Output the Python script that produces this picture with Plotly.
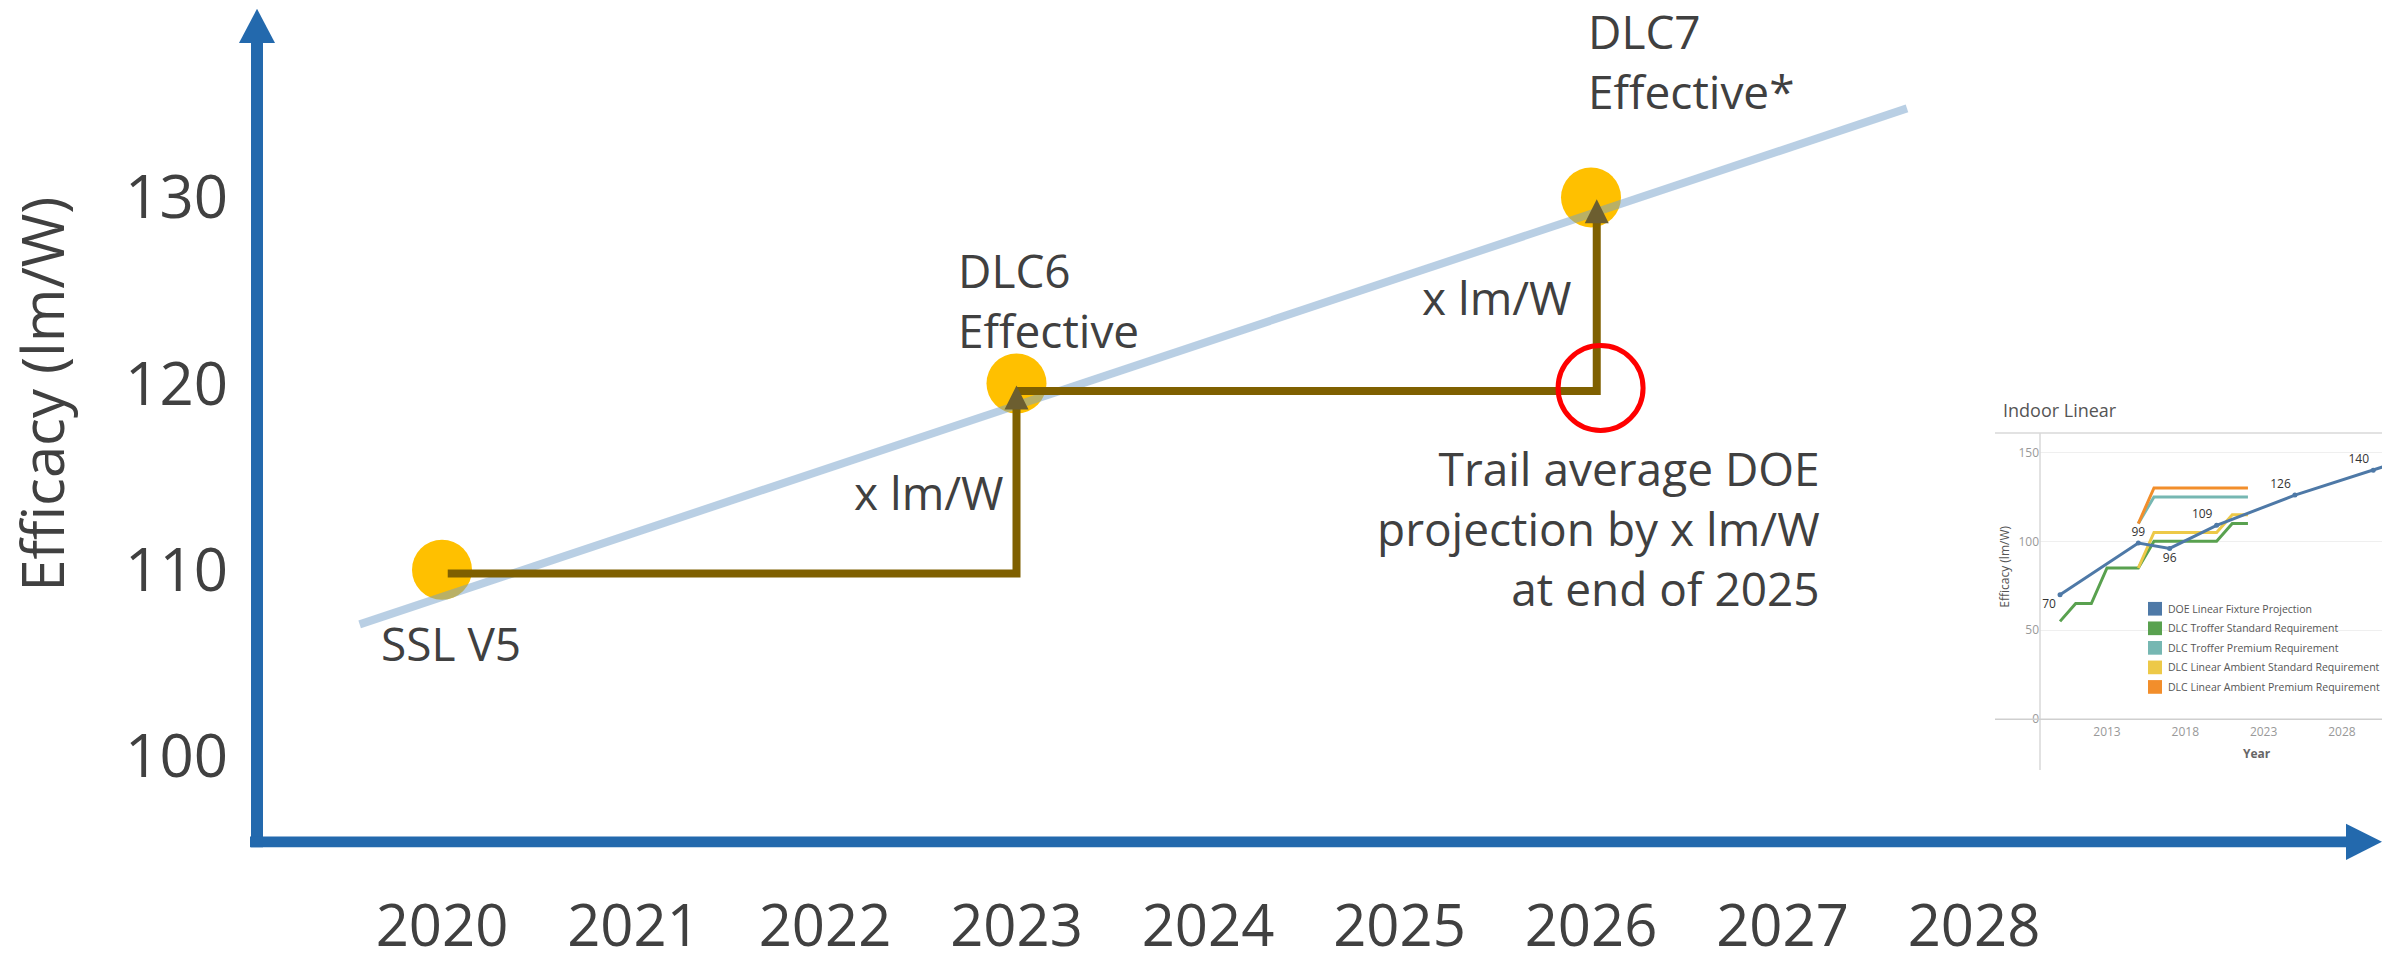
import plotly.graph_objects as go

W, H = 2382, 963

# ---------------- data: main chart ----------------
years_axis = [2020, 2021, 2022, 2023, 2024, 2025, 2026, 2027, 2028]
efficacy_ticks = [100, 110, 120, 130]

milestone_years = [2020, 2023, 2026]
milestone_values = [110, 120, 130]

trend_years = [2019.57, 2027.65]
trend_values = [107.06, 134.78]

step_start_year = 2020.03
step_riser_years = [2023.0, 2026.03]
step_levels = [109.8, 119.6]
step_tips = [119.9, 129.9]

gap_year = [2026.05]
gap_value = [119.76]

# ---------------- data: inset (Indoor Linear) ----------------
doe_years = [2010, 2015, 2017, 2020, 2025, 2030, 2031]
doe_values = [70, 99, 96, 109, 126, 140, 143]
doe_labels = ["70", "99", "96", "109", "126", "140", ""]
troffer_std_years = [2010, 2011, 2012, 2013, 2015, 2016, 2020, 2021, 2022]
troffer_std_values = [55, 65, 65, 85, 85, 100, 100, 110, 110]
troffer_prem_years = [2015, 2016, 2022]
troffer_prem_values = [110, 125, 125]
amb_std_years = [2015, 2016, 2020, 2021, 2022]
amb_std_values = [85, 105, 105, 115, 115]
amb_prem_years = [2015, 2016, 2022]
amb_prem_values = [110, 130, 130]
inset_xticks = [2013, 2018, 2023, 2028]
inset_yticks = [0, 50, 100, 150]
legend_names = ["DOE Linear Fixture Projection", "DLC Troffer Standard Requirement",
                "DLC Troffer Premium Requirement", "DLC Linear Ambient Standard Requirement",
                "DLC Linear Ambient Premium Requirement"]

# ---------------- styles ----------------
AXIS_BLUE = "#2369ad"
TEXT = "#404040"
GOLD = "#FFC000"
BROWN = "#7f6000"
ARROW_BROWN = "rgb(108,94,48)"
TREND = "rgba(115,159,201,0.5)"
C_DOE, C_TSTD, C_TPREM, C_ASTD, C_APREM = "#4e79a7", "#59a14f", "#76b7b2", "#edc948", "#f28e2b"
legend_colors = [C_DOE, C_TSTD, C_TPREM, C_ASTD, C_APREM]
FONT = "Open Sans"


def px(x):
    return x / W


def py(y):
    return 1 - y / H


# main axis calibration (pixels)
X_AT_2020, PX_PER_YEAR = 442, 191.5
Y_AT_110, PX_PER_UNIT = 583, 19.05
main_left, main_bottom = 257, 861
x_range = [2020 - (X_AT_2020 - main_left) / PX_PER_YEAR,
           2020 + (W - X_AT_2020) / PX_PER_YEAR]
y_range = [110 - (main_bottom - Y_AT_110) / PX_PER_UNIT, 110 + Y_AT_110 / PX_PER_UNIT]

# inset calibration
in_left, in_top, in_bottom = 2040, 443, 740
IN_X2013, IN_PPY = 2107, 15.66
IN_Y0, IN_PPU = 736, 1.82
x2_range = [2013 - (IN_X2013 - in_left) / IN_PPY, 2013 + (W - IN_X2013) / IN_PPY]
y2_range = [-(in_bottom - IN_Y0) / IN_PPU, (IN_Y0 - in_top) / IN_PPU]

fig = go.Figure()

# milestone circles
fig.add_trace(go.Scatter(x=milestone_years, y=milestone_values, mode="markers",
                         marker=dict(size=60, color=GOLD, line=dict(width=0)),
                         hoverinfo="skip"))
# trend line
fig.add_trace(go.Scatter(x=trend_years, y=trend_values, mode="lines",
                         line=dict(color=TREND, width=8), hoverinfo="skip"))
# step path (two horizontal runs + risers)
starts = [step_start_year, step_riser_years[0]]
for i in range(2):
    xr = step_riser_years[i]
    tip = step_tips[i]
    fig.add_trace(go.Scatter(x=[starts[i], xr, xr], y=[step_levels[i], step_levels[i], tip - 0.9],
                             mode="lines", line=dict(color=BROWN, width=8),
                             hoverinfo="skip"))
fig.add_trace(go.Scatter(x=step_riser_years, y=step_tips, mode="markers",
                         marker=dict(symbol="arrow-up", size=24, color=ARROW_BROWN,
                                     line=dict(width=0)),
                         hoverinfo="skip"))
# red highlight circle
fig.add_trace(go.Scatter(x=gap_year, y=gap_value, mode="markers",
                         marker=dict(symbol="circle-open", size=85, color="#FF0000",
                                     line=dict(width=5, color="#FF0000")),
                         hoverinfo="skip"))

# ---------------- inset traces ----------------
for xs, ys, c in [(troffer_std_years, troffer_std_values, C_TSTD),
                  (troffer_prem_years, troffer_prem_values, C_TPREM),
                  (amb_std_years, amb_std_values, C_ASTD),
                  (amb_prem_years, amb_prem_values, C_APREM)]:
    fig.add_trace(go.Scatter(x=xs, y=ys, mode="lines", line=dict(color=c, width=3),
                             xaxis="x2", yaxis="y2", hoverinfo="skip"))
fig.add_trace(go.Scatter(x=doe_years, y=doe_values, mode="lines+markers+text",
                         line=dict(color=C_DOE, width=3), marker=dict(size=5, color=C_DOE),
                         text=doe_labels,
                         textposition=["bottom left", "top center", "bottom center",
                                       "top left", "top left", "top left", "top left"],
                         textfont=dict(size=12, color="#333333", family=FONT),
                         xaxis="x2", yaxis="y2", hoverinfo="skip"))

shapes = []
# main axes with arrows
shapes.append(dict(type="rect", xref="paper", yref="paper", x0=px(251), x1=px(263),
                   y0=py(867), y1=py(44), fillcolor=AXIS_BLUE, line=dict(width=0)))
shapes.append(dict(type="rect", xref="paper", yref="paper", x0=px(250), x1=px(2347),
                   y0=py(867), y1=py(856), fillcolor=AXIS_BLUE, line=dict(width=0)))
shapes.append(dict(type="path", xref="paper", yref="paper",
                   path=f"M{px(239)},{py(44)} L{px(257)},{py(9)} L{px(275)},{py(44)} Z",
                   fillcolor=AXIS_BLUE, line=dict(width=0)))
shapes.append(dict(type="path", xref="paper", yref="paper",
                   path=f"M{px(2346)},{py(843)} L{px(2382)},{py(861.5)} L{px(2346)},{py(880)} Z",
                   fillcolor=AXIS_BLUE, line=dict(width=0)))
# inset frame lines
shapes.append(dict(type="line", xref="paper", yref="paper", x0=px(1995), x1=px(2382),
                   y0=py(443), y1=py(443), line=dict(color="#d9d9d9", width=1.5)))
shapes.append(dict(type="line", xref="paper", yref="paper", x0=px(2040), x1=px(2040),
                   y0=py(443), y1=py(788), line=dict(color="#d9d9d9", width=1.5)))
shapes.append(dict(type="line", xref="paper", yref="paper", x0=px(1995), x1=px(2382),
                   y0=py(736), y1=py(736), line=dict(color="#cfcfcf", width=1.5)))
# inset legend swatches
legend_rows = [623, 643, 663, 683, 703]
for yc, c in zip(legend_rows, legend_colors):
    shapes.append(dict(type="rect", xref="paper", yref="paper", x0=px(2148), x1=px(2162),
                       y0=py(yc + 7), y1=py(yc - 7), fillcolor=c, line=dict(width=0)))

ann = []


def text(x, y, s, size, xanchor="left", align="left", color=TEXT, angle=0):
    ann.append(dict(x=px(x), y=py(y), xref="paper", yref="paper", text=s, showarrow=False,
                    xanchor=xanchor, yanchor="middle", align=align, textangle=angle,
                    font=dict(family=FONT, size=size, color=color)))


text(42, 404, "Efficacy (lm/W)", 58, xanchor="center", align="center", angle=-90)
text(379, 658, "SSL V5", 46)
text(956, 307, "DLC6<br>Effective", 46)
text(1586, 62, "DLC7<br>Effective*", 46)
text(852, 503, "x lm/W", 46)
text(1420, 304, "x lm/W", 46)
text(1822, 540, "Trail average DOE<br>projection by x lm/W<br>at end of 2025", 46,
     xanchor="right", align="right")
# inset texts
text(2001, 420, "Indoor Linear", 18, color="#555555")
text(2005, 580, "Efficacy (lm/W)", 12, xanchor="center", align="center", color="#555555", angle=-90)
text(2257, 771, "<b>Year</b>", 12, xanchor="center", align="center", color="#666666")
for yc, name in zip(legend_rows, legend_names):
    text(2166, yc, name, 10.5, color="#555555")

fig.update_layout(
    width=W, height=H, margin=dict(l=0, r=0, t=0, b=0),
    paper_bgcolor="white", plot_bgcolor="rgba(0,0,0,0)", showlegend=False,
    font=dict(family=FONT, color=TEXT),
    xaxis=dict(domain=[px(main_left), 1], range=x_range, tickvals=years_axis,
               ticktext=[str(v) for v in years_axis], showgrid=False, zeroline=False,
               showline=False, ticks="", tickfont=dict(size=58, color=TEXT, family=FONT),
               ticklabelstandoff=46),
    yaxis=dict(domain=[py(main_bottom), 1], range=y_range, tickvals=efficacy_ticks,
               showgrid=False, zeroline=False, showline=False, ticks="",
               tickfont=dict(size=60, color=TEXT, family=FONT), ticklabelstandoff=28),
    xaxis2=dict(domain=[px(in_left), 1], anchor="y2", range=x2_range, tickvals=inset_xticks,
                showgrid=False, zeroline=False, showline=False, ticks="",
                tickfont=dict(size=12, color="#999999", family=FONT)),
    yaxis2=dict(domain=[py(in_bottom), py(in_top)], anchor="x2", range=y2_range,
                tickvals=inset_yticks, showgrid=True, gridcolor="#efefef", zeroline=False,
                showline=False, ticks="", tickfont=dict(size=12, color="#999999", family=FONT)),
    shapes=shapes, annotations=ann,
)

fig.write_html("out.html", config={"displayModeBar": False},
               post_script="document.body.style.margin='0';document.body.style.overflow='hidden';")
